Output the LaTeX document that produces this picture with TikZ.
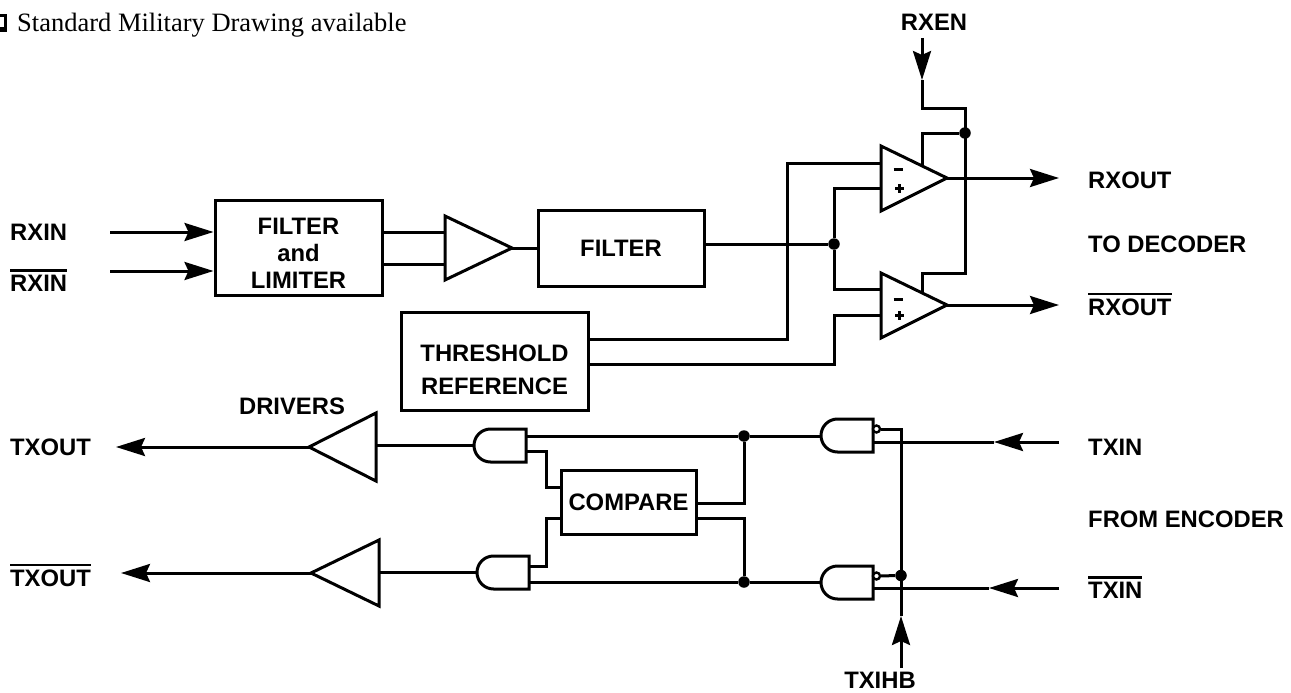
\documentclass[tikz,border=0pt]{standalone}
\usepackage{fontspec}
\setmainfont{Liberation Serif}
\newfontfamily\lblfont{Liberation Sans}[BoldFont={Liberation Sans Bold}]
\usetikzlibrary{arrows.meta}
\newcommand{\ovl}[1]{\leavevmode\vbox{\hrule height 2.6pt \kern 3pt \hbox{#1}}}
\tikzset{
  wire/.style={line width=3pt,line cap=butt,line join=miter},
  arrowed/.style={wire,-{Stealth[length=29pt,width=18pt,inset=4pt]}},
  partshape/.style={wire,draw,fill=none},
  blockbox/.style={draw,line width=3pt,inner sep=0pt,anchor=center,align=center},
  lbl/.style={font=\lblfont\bfseries\fontsize{23.8}{27}\selectfont,inner sep=0pt},
  sidelbl/.style={lbl,anchor=base west},
  midlbl/.style={lbl,anchor=base},
  junction/.style={circle,fill=black,inner sep=0pt,minimum size=11.5pt},
  bubble/.style={circle,draw,line width=2.4pt,inner sep=0pt,minimum size=7pt,fill=white},
  sign/.style={font=\lblfont\bfseries\fontsize{20}{20}\selectfont,inner sep=0pt}
}
\begin{document}
\begin{tikzpicture}[x=1pt,y=-1pt]
\useasboundingbox (0,0) rectangle (1291,693);

% header
\fill[black] (0,14.5) rectangle (7,32) ;
\fill[white] (0,17.5) rectangle (3.5,27.5);
\node[anchor=base west,inner sep=0pt,font=\fontsize{26.5}{30}\selectfont] (hdr) at (17,32) {Standard Military Drawing available};

% blocks
\node[blockbox,minimum width=167pt,minimum height=95pt] (flim) at (298.5,247.5) {};
\node[lbl,align=center] (flimt) at (298.5,253) {FILTER\\and\\LIMITER};
\node[blockbox,lbl,minimum width=166pt,minimum height=76pt] (filt) at (621,248) {FILTER};
\node[blockbox,minimum width=187pt,minimum height=98pt] (thr) at (494.5,361) {};
\node[lbl,align=center,font=\lblfont\bfseries\fontsize{23.8}{33}\selectfont] (thrt) at (494.5,369.5) {THRESHOLD\\REFERENCE};
\node[blockbox,lbl,minimum width=135pt,minimum height=64pt] (cmp) at (628.5,502) {COMPARE};

% labels
\node[sidelbl] (l1) at (10,240) {RXIN};
\node[sidelbl] (l2) at (10,291) {\ovl{RXIN}};
\node[sidelbl] (l3) at (10,455) {TXOUT};
\node[sidelbl] (l4) at (10,586) {\ovl{TXOUT}};
\node[midlbl] (l5) at (292,414) {DRIVERS};
\node[midlbl] (l6) at (934,31) {RXEN};
\node[midlbl] (l7) at (880,688) {TXIHB};
\node[sidelbl] (l8) at (1088,188) {RXOUT};
\node[sidelbl] (l9) at (1088,252) {TO DECODER};
\node[sidelbl] (l10) at (1088,315) {\ovl{RXOUT}};
\node[sidelbl] (l11) at (1088,455) {TXIN};
\node[sidelbl] (l12) at (1088,527) {FROM ENCODER};
\node[sidelbl] (l13) at (1088,598) {\ovl{TXIN}};

% amplifier triangles
\coordinate (ampA) at (445,216); \coordinate (ampB) at (445,280); \coordinate (ampT) at (512,248);
\draw[partshape] (ampA) -- (ampT) -- (ampB) -- cycle;
\coordinate (c1a) at (881,146); \coordinate (c1b) at (881,211); \coordinate (c1t) at (947,178);
\draw[partshape] (c1a) -- (c1t) -- (c1b) -- cycle;
\coordinate (c2a) at (881,273); \coordinate (c2b) at (881,338); \coordinate (c2t) at (947,305);
\draw[partshape] (c2a) -- (c2t) -- (c2b) -- cycle;
\node[sign] (s1) at (898,169) {\rule{9pt}{3pt}};
\node[sign] (s2) at (898,188) {\rule{9pt}{3pt}\kern-9pt\raisebox{-3pt}{\kern3pt\rule{3pt}{9pt}}};
\node[sign] (s3) at (898,299) {\rule{9pt}{3pt}};
\node[sign] (s4) at (898,315) {\rule{9pt}{3pt}\kern-9pt\raisebox{-3pt}{\kern3pt\rule{3pt}{9pt}}};
\coordinate (d1a) at (376,413); \coordinate (d1b) at (376,481); \coordinate (d1t) at (309,447);
\draw[partshape] (d1a) -- (d1t) -- (d1b) -- cycle;
\coordinate (d2a) at (379,540); \coordinate (d2b) at (379,606); \coordinate (d2t) at (311,573);
\draw[partshape] (d2a) -- (d2t) -- (d2b) -- cycle;

% gates
\draw[partshape] (526,429) -- (490.5,429) arc[start angle=270,end angle=90,radius=16.5] -- (526,462) -- cycle;
\draw[partshape] (529,556) -- (493.5,556) arc[start angle=270,end angle=90,radius=16.5] -- (529,589) -- cycle;
\draw[partshape] (873,419) -- (837.5,419) arc[start angle=270,end angle=90,radius=16.5] -- (873,452) -- cycle;
\draw[partshape] (873,566) -- (837.5,566) arc[start angle=270,end angle=90,radius=16.5] -- (873,599) -- cycle;
\coordinate (g1in) at (474,445); \coordinate (g2in) at (477,572);
\coordinate (g3in) at (821,436); \coordinate (g4in) at (821,582);
\node[bubble] (b3) at (876.5,429) {};
\node[bubble] (b4) at (876.5,576) {};

% junctions
\node[junction] (j1) at (834,244) {};
\node[junction] (j2) at (965,133) {};
\node[junction] (j3) at (744,436) {};
\node[junction] (j4) at (744,582) {};
\node[junction] (j5) at (901,575.5) {};

% free ends
\coordinate (rx1) at (110,232); \coordinate (rx2) at (110,271);
\coordinate (en) at (922,38); \coordinate (entip) at (922,80);
\coordinate (rxo1) at (1059,178); \coordinate (rxo2) at (1059,305);
\coordinate (tx1) at (116,447); \coordinate (tx2) at (121,573);
\coordinate (ti1) at (1059,442); \coordinate (ti1t) at (994,442);
\coordinate (ti2) at (1059,588); \coordinate (ti2t) at (989,588);
\coordinate (ih) at (901,668); \coordinate (iht) at (901,616);

% top half connectors
\draw[arrowed] (rx1) -- (flim.west |- rx1);
\draw[arrowed] (rx2) -- (flim.west |- rx2);
\draw[wire] (flim.east |- 0,232) -- (445,232);
\draw[wire] (flim.east |- 0,264) -- (445,264);
\draw[wire] (ampT) -- (filt.west |- ampT);
\draw[wire] (filt.east |- j1) -- (j1);
\draw[wire] (881,188) -- (j1 |- 0,188) -- (j1) -- (j1 |- 0,289) -- (881,289);
\draw[wire] (thr.east |- 0,339) -- (787,339) -- (787,163) -- (881,163);
\draw[wire] (thr.east |- 0,364) -- (834,364) -- (834,315) -- (881,315);
\draw[arrowed] (en) -- (entip);
\draw[wire] (entip) -- (922,108) -- (965,108) -- (965,273) -- (922,273) -- (922,292);
\draw[wire] (j2) -- (922,133) -- (922,166);
\draw[arrowed] (c1t) -- (rxo1);
\draw[arrowed] (c2t) -- (rxo2);

% bottom half connectors
\draw[arrowed] (d1t) -- (tx1);
\draw[arrowed] (d2t) -- (tx2);
\draw[wire] (g1in) -- (d1a |- g1in);
\draw[wire] (g2in) -- (d2a |- g2in);
\draw[wire] (526,436) -- (j3);
\draw[wire] (j3) -- (g3in);
\draw[wire] (529,582) -- (j4);
\draw[wire] (j4) -- (g4in);
\draw[wire] (526,451) -- (546,451) -- (546,487) -- (cmp.west |- 0,487);
\draw[wire] (529,566) -- (546,566) -- (546,518) -- (cmp.west |- 0,518);
\draw[wire] (cmp.east |- 0,503) -- (744,503) -- (j3);
\draw[wire] (cmp.east |- 0,518) -- (744,518) -- (j4);
\draw[wire] (b3) -- (901,429) -- (iht);
\draw[wire] (b4) -- (j5);
\draw[arrowed] (ih) -- (iht);
\draw[arrowed] (ti1) -- (ti1t);
\draw[wire] (ti1t) -- (873,442);
\draw[arrowed] (ti2) -- (ti2t);
\draw[wire] (ti2t) -- (873,588);
\end{tikzpicture}
\end{document}
